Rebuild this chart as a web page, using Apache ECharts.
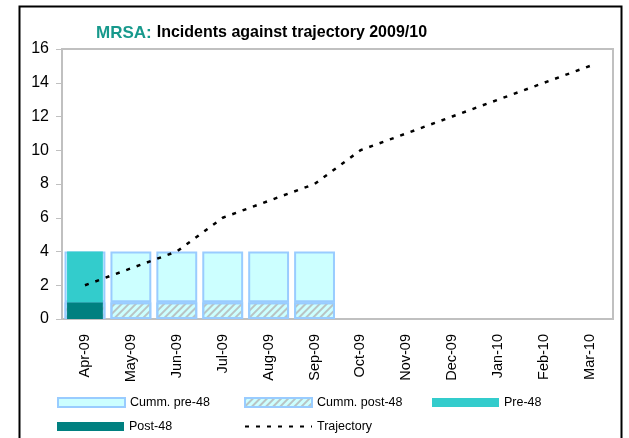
<!DOCTYPE html>
<html>
<head>
<meta charset="utf-8">
<script src="https://cdn.jsdelivr.net/npm/echarts@6/dist/echarts.min.js"></script>
<style>
  html, body { margin: 0; padding: 0; background: #fff; }
  #main { width: 629px; height: 438px; }
</style>
</head>
<body>
<div id="main"></div>
<script>
// chart data
var months = ["Apr-09", "May-09", "Jun-09", "Jul-09", "Aug-09", "Sep-09",
  "Oct-09", "Nov-09", "Dec-09", "Jan-10", "Feb-10", "Mar-10"];
var cummPost48 = [1, 1, 1, 1, 1, 1, null, null, null, null, null, null];
var cummPre48 = [3, 3, 3, 3, 3, 3, null, null, null, null, null, null];
var pre48 = [3, 0, 0, 0, 0, 0, null, null, null, null, null, null];
var post48 = [1, 0, 0, 0, 0, 0, null, null, null, null, null, null];
var trajectory = [2, 3, 4, 6, 7, 8, 10, 11, 12, 13, 14, 15];
var yTicks = [0, 2, 4, 6, 8, 10, 12, 14, 16];

var font = "'Liberation Sans', Arial, sans-serif";

var myChart = echarts.init(document.getElementById("main"));

function legendAt(name, left, top, extra) {
  var l = {
    data: [name],
    left: left,
    top: top,
    padding: 0,
    icon: "rect",
    itemWidth: 67,
    itemHeight: 9,
    itemGap: 5,
    selectedMode: false,
    textStyle: { fontFamily: font, fontSize: 12.5, color: "#000" }
  };
  return Object.assign(l, extra || {});
}

var option = {
  backgroundColor: "#fff",
  animation: false,
  title: {
    text: "{a|MRSA:} {b|Incidents against trajectory 2009/10}",
    left: 96,
    top: 24,
    padding: 0,
    textStyle: {
      rich: {
        a: { fontFamily: font, fontSize: 17, fontWeight: "bold", color: "#17998c" },
        b: { fontFamily: font, fontSize: 16, fontWeight: "bold", color: "#000" }
      }
    }
  },
  graphic: [
    {
      type: "rect",
      shape: { x: 19.5, y: 6.5, width: 602, height: 440 },
      style: { fill: "none", stroke: "#000", lineWidth: 2 },
      silent: true
    }
  ],
  legend: [
    legendAt("Cumm. pre-48", 57, 396),
    legendAt("Cumm. post-48", 244, 396),
    legendAt("Pre-48", 432, 396),
    legendAt("Post-48", 57, 420),
    legendAt("Trajectory", 244, 420, { icon: null, itemStyle: { opacity: 0 } })
  ],
  grid: {
    left: 62,
    right: 16,
    top: 49,
    bottom: 119,
    show: true,
    borderColor: "#c0c0c0",
    borderWidth: 2
  },
  xAxis: [
    {
      type: "category",
      data: months,
      axisLine: { lineStyle: { color: "#c0c0c0", width: 2 } },
      axisTick: { show: false },
      axisLabel: {
        rotate: 90,
        margin: 15,
        interval: 0,
        fontFamily: font,
        fontSize: 14.5,
        color: "#000"
      }
    },
    {
      type: "category",
      data: months,
      show: false,
      position: "bottom"
    }
  ],
  yAxis: {
    type: "value",
    min: yTicks[0],
    max: yTicks[yTicks.length - 1],
    interval: 2,
    axisLine: { show: true, lineStyle: { color: "#c0c0c0", width: 2 } },
    axisTick: { show: true, length: 6, lineStyle: { color: "#c0c0c0" } },
    splitLine: { show: false },
    axisLabel: { margin: 13, fontFamily: font, fontSize: 16, color: "#000" }
  },
  series: [
    {
      name: "Cumm. post-48",
      type: "bar",
      stack: "cumm",
      xAxisIndex: 0,
      barCategoryGap: "11%",
      data: cummPost48,
      itemStyle: {
        color: "#ccffff",
        borderColor: "#99ccff",
        borderWidth: 2,
        decal: {
          symbol: "rect",
          color: "#b8c4c4",
          dashArrayX: [1, 0],
          dashArrayY: [2, 3],
          rotation: -Math.PI / 4
        }
      }
    },
    {
      name: "Cumm. pre-48",
      type: "bar",
      stack: "cumm",
      xAxisIndex: 0,
      data: cummPre48,
      itemStyle: { color: "#ccffff", borderColor: "#99ccff", borderWidth: 2 }
    },
    {
      name: "Post-48",
      type: "bar",
      stack: "month",
      xAxisIndex: 1,
      barCategoryGap: "22%",
      data: post48,
      itemStyle: { color: "#008080" }
    },
    {
      name: "Pre-48",
      type: "bar",
      stack: "month",
      xAxisIndex: 1,
      data: pre48,
      itemStyle: { color: "#33cccc" }
    },
    {
      name: "Trajectory",
      type: "line",
      xAxisIndex: 0,
      data: trajectory,
      symbol: "none",
      z: 5,
      lineStyle: { color: "#000", width: 2.5, type: [4, 7] },
      itemStyle: { color: "#000" }
    }
  ]
};
myChart.setOption(option);
</script>
</body>
</html>
